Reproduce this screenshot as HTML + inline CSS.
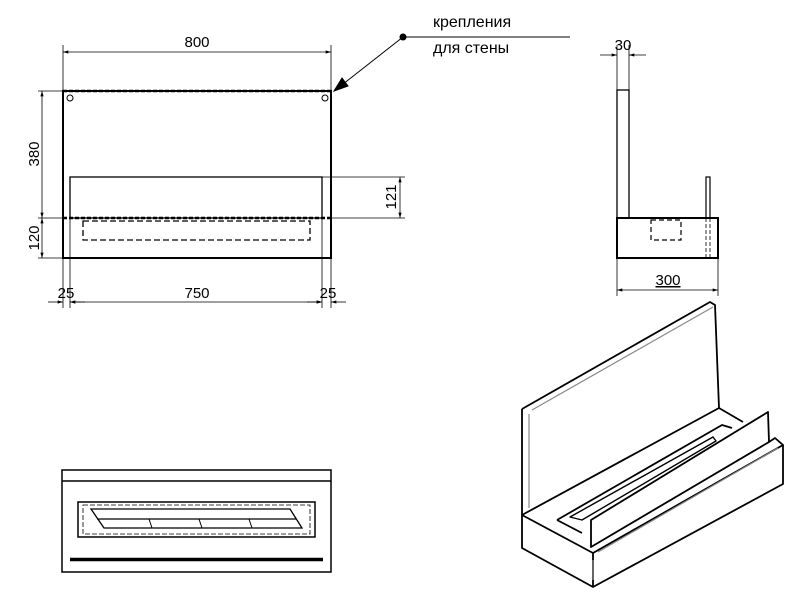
<!DOCTYPE html>
<html><head><meta charset="utf-8"><style>html,body{margin:0;padding:0;background:#fff}svg{display:block}</style></head><body>
<svg width="800" height="600" viewBox="0 0 800 600" xmlns="http://www.w3.org/2000/svg" font-family="Liberation Sans, DejaVu Sans, sans-serif">
<defs><marker id="a" viewBox="0 0 10 6" refX="10" refY="3" markerWidth="8" markerHeight="4" orient="auto-start-reverse"><path d="M0,0L10,3L0,6z" fill="#000"/></marker></defs>
<g stroke="#000" fill="none">
<!-- front view -->
<rect x="63" y="91" width="268" height="167" stroke-width="2"/>
<line x1="63" y1="91" x2="331" y2="91" stroke-width="2.5" stroke-dasharray="4,2"/>
<line x1="63" y1="218" x2="331" y2="218" stroke-width="2.5" stroke-dasharray="4,2"/>
<rect x="70" y="177" width="252" height="41" stroke-width="1.3"/>
<rect x="83" y="221" width="227" height="19" stroke-width="1.3" stroke-dasharray="6,3"/>
<circle cx="70" cy="98" r="3" stroke-width="1"/><circle cx="325" cy="98" r="3" stroke-width="1"/>
<g stroke-width="0.8">
<line x1="63" y1="45" x2="63" y2="91"/><line x1="331" y1="45" x2="331" y2="91"/>
<line x1="63" y1="52" x2="331" y2="52" marker-start="url(#a)" marker-end="url(#a)"/>
<line x1="38" y1="91" x2="63" y2="91"/><line x1="38" y1="218" x2="63" y2="218"/><line x1="38" y1="258" x2="63" y2="258"/>
<line x1="42" y1="91" x2="42" y2="218" marker-start="url(#a)" marker-end="url(#a)"/>
<line x1="42" y1="218" x2="42" y2="258" marker-start="url(#a)" marker-end="url(#a)"/>
<line x1="322" y1="177" x2="405" y2="177"/><line x1="331" y1="218" x2="405" y2="218"/>
<line x1="400" y1="177" x2="400" y2="218" marker-start="url(#a)" marker-end="url(#a)"/>
<line x1="63" y1="258" x2="63" y2="308"/><line x1="70" y1="218" x2="70" y2="308"/><line x1="322" y1="218" x2="322" y2="308"/><line x1="331" y1="258" x2="331" y2="308"/>
<line x1="70" y1="302" x2="322" y2="302" marker-start="url(#a)" marker-end="url(#a)"/>
<line x1="48" y1="302" x2="63" y2="302" marker-end="url(#a)"/><line x1="85" y1="302" x2="70" y2="302" marker-end="url(#a)"/>
<line x1="307" y1="302" x2="322" y2="302" marker-end="url(#a)"/><line x1="346" y1="302" x2="331" y2="302" marker-end="url(#a)"/>
</g>
<!-- leader -->
<line x1="403" y1="37" x2="570" y2="37" stroke-width="1"/>
<line x1="403" y1="37" x2="338" y2="88" stroke-width="1"/>
<path d="M334,91L342,78L348,86z" fill="#000"/>
<circle cx="403" cy="37" r="3" fill="#000"/>
<!-- side view -->
<rect x="617" y="90" width="12" height="128" stroke-width="1.3"/>
<rect x="617" y="218" width="101" height="40" stroke-width="2"/>
<rect x="706" y="177" width="4" height="41" stroke-width="1.2"/>
<rect x="651" y="220" width="30" height="20" stroke-width="1.2" stroke-dasharray="5,3"/>
<line x1="706" y1="218" x2="706" y2="258" stroke-width="0.8" stroke-dasharray="4,2"/><line x1="710" y1="218" x2="710" y2="258" stroke-width="0.8" stroke-dasharray="4,2"/>
<g stroke-width="0.8">
<line x1="617" y1="45" x2="617" y2="90"/><line x1="629" y1="45" x2="629" y2="90"/>
<line x1="600" y1="55" x2="617" y2="55" marker-end="url(#a)"/><line x1="646" y1="55" x2="629" y2="55" marker-end="url(#a)"/>
<line x1="617" y1="258" x2="617" y2="296"/><line x1="718" y1="258" x2="718" y2="296"/>
<line x1="617" y1="290" x2="718" y2="290" marker-start="url(#a)" marker-end="url(#a)"/>
</g>
<!-- bottom view -->
<rect x="62" y="470" width="269" height="102" stroke-width="1.5"/>
<line x1="62" y1="481" x2="331" y2="481" stroke-width="1.5"/>
<rect x="78" y="502" width="237" height="35" stroke-width="1.5"/>
<rect x="83" y="505" width="227" height="29" stroke-width="0.8" stroke-dasharray="5,2"/>
<path d="M91,509L290,509L302,528L104,528z" stroke-width="1.3"/>
<line x1="97" y1="519" x2="296" y2="519" stroke-width="1.3"/>
<line x1="149" y1="519" x2="152" y2="528"/><line x1="199" y1="519" x2="202" y2="528"/><line x1="249" y1="519" x2="252" y2="528"/>
<line x1="70" y1="559.5" x2="323" y2="559.5" stroke-width="3.5"/>
<!-- iso -->
<g stroke-width="1.8" stroke-linejoin="round">
<path d="M522,409L710,302L715,305L719,408"/>
<path d="M522,409L522,515"/>
<path d="M522,515L593,553L783,445L783,484L593,587L522,548Z"/>
<line x1="593" y1="553" x2="593" y2="587"/>
<path d="M522,515L719,408L743,422"/>
<path d="M557,520L722,425L732,428"/>
<path d="M557,520L582,533"/>
<path d="M591,520L768,412L769,442L591,547Z"/>
<path d="M769,442L775,438L783,445"/>
<path d="M570,517L713,437L716,441L582,520z" stroke-width="1.4"/>
</g>
<g stroke="#888" stroke-width="1.2"><line x1="529" y1="414" x2="529" y2="508"/><line x1="532" y1="410" x2="713" y2="307"/><line x1="598" y1="552" x2="778" y2="448"/><line x1="593" y1="560" x2="593" y2="580"/></g>
</g>
<g font-size="15" fill="#000">
<text x="197" y="47" text-anchor="middle">800</text>
<text x="197" y="298" text-anchor="middle">750</text>
<text x="66" y="298" text-anchor="middle">25</text>
<text x="328" y="298" text-anchor="middle">25</text>
<text transform="translate(39,154) rotate(-90)" text-anchor="middle">380</text>
<text transform="translate(39,238) rotate(-90)" text-anchor="middle">120</text>
<text transform="translate(396,197) rotate(-90)" text-anchor="middle">121</text>
<text x="623" y="50" text-anchor="middle">30</text>
<text x="668" y="285" text-anchor="middle" text-decoration="underline">300</text>
<text x="433" y="27" font-size="16">крепления</text>
<text x="433" y="53" font-size="16">для стены</text>
</g>
</svg>
</body></html>
